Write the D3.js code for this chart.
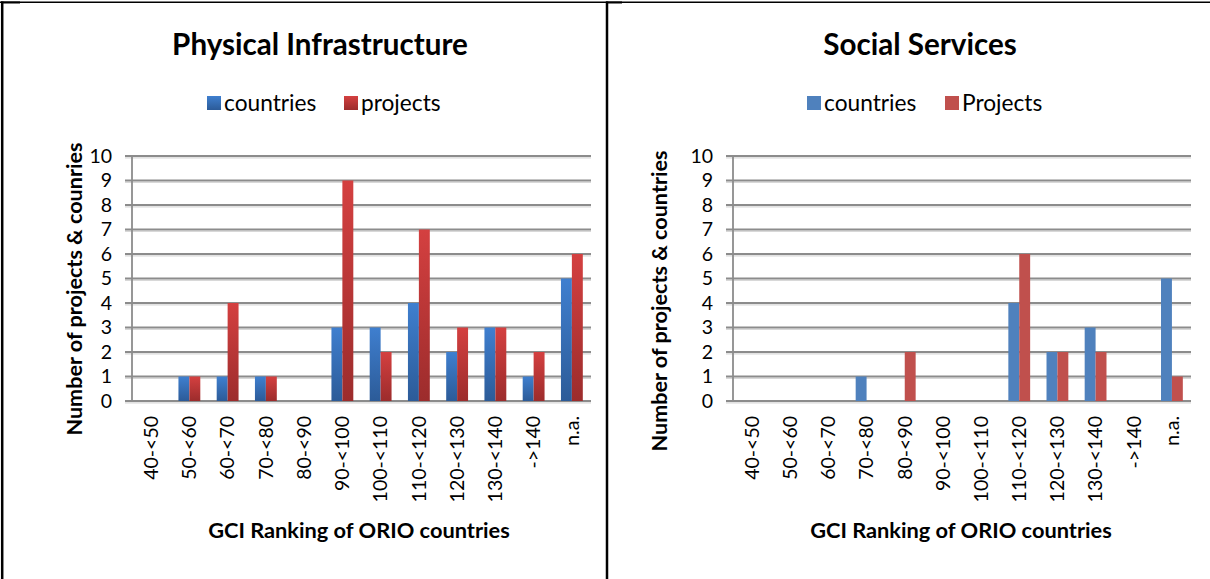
<!DOCTYPE html>
<html>
<head>
<meta charset="utf-8">
<script src="https://cdn.jsdelivr.net/npm/d3@7"></script>
<style>
  body { margin: 0; background: #fff; }
  svg { display: block; font-family: Lato, "Open Sans", sans-serif; }
</style>
</head>
<body>
<svg width="1210" height="579"></svg>
<script>
var svg = d3.select("svg");

var categories = ["40-<50", "50-<60", "60-<70", "70-<80", "80-<90", "90-<100",
                  "100-<110", "110-<120", "120-<130", "130-<140", "->140", "n.a."];
var infraCountries = [0, 1, 1, 1, 0, 3, 3, 4, 2, 3, 1, 5];
var infraProjects  = [0, 1, 4, 1, 0, 9, 2, 7, 3, 3, 2, 6];
var socialCountries = [0, 0, 0, 1, 0, 0, 0, 4, 2, 3, 0, 5];
var socialProjects  = [0, 0, 0, 0, 2, 0, 0, 6, 2, 2, 0, 1];
var yTicks = [0, 1, 2, 3, 4, 5, 6, 7, 8, 9, 10];

var defs = svg.append("defs");
function grad(id, top, bottom) {
    var g = defs.append("linearGradient").attr("id", id)
        .attr("x1", 0).attr("y1", 0).attr("x2", 0).attr("y2", 1);
    g.append("stop").attr("offset", "0%").attr("stop-color", top);
    g.append("stop").attr("offset", "100%").attr("stop-color", bottom);
}
grad("gBlue", "#3f7fcf", "#2c5b98");
grad("gRed", "#d44040", "#9c2c2c");

// table cell borders
svg.append("line").attr("x1", 0).attr("x2", 1210).attr("y1", 2.2).attr("y2", 2.2)
    .attr("stroke", "#000").attr("stroke-width", 1.4);
svg.append("line").attr("x1", 1).attr("x2", 20).attr("y1", 2.5).attr("y2", 2.5)
    .attr("stroke", "#000").attr("stroke-width", 2);
svg.append("line").attr("x1", 606).attr("x2", 622).attr("y1", 2.5).attr("y2", 2.5)
    .attr("stroke", "#000").attr("stroke-width", 2);
svg.append("line").attr("x1", 2.2).attr("x2", 2.2).attr("y1", 1.5).attr("y2", 579)
    .attr("stroke", "#000").attr("stroke-width", 2.5);
svg.append("line").attr("x1", 607).attr("x2", 607).attr("y1", 1.5).attr("y2", 579)
    .attr("stroke", "#000").attr("stroke-width", 2.5);

function drawChart(c) {
    var g = svg.append("g");
    var x = d3.scaleBand().domain(categories).range([c.left, c.right])
        .paddingInner(0.4286).paddingOuter(0.2143);
    var xs = d3.scaleBand().domain(["countries", "projects"]).range([0, x.bandwidth()]);
    var y = d3.scaleLinear().domain([0, 10]).range([401, 156]);

    // gridlines (with a soft shadow)
    g.selectAll(".shadow").data(yTicks).enter().append("line")
        .attr("x1", c.left - 7).attr("x2", c.right)
        .attr("y1", function (d) { return y(d) + 1.8; })
        .attr("y2", function (d) { return y(d) + 1.8; })
        .attr("stroke", "#d8d8d8").attr("stroke-width", 1.3);
    g.selectAll(".grid").data(yTicks).enter().append("line")
        .attr("x1", c.left - 7).attr("x2", c.right)
        .attr("y1", function (d) { return y(d); })
        .attr("y2", function (d) { return y(d); })
        .attr("stroke", "#8c8c8c").attr("stroke-width", 1.8);
    g.append("line").attr("x1", c.left).attr("x2", c.left)
        .attr("y1", y(10)).attr("y2", y(0))
        .attr("stroke", "#8c8c8c").attr("stroke-width", 1.8);

    g.selectAll(".ylab").data(yTicks).enter().append("text")
        .attr("x", c.left - 20).attr("y", function (d) { return y(d); })
        .attr("dy", "0.35em").attr("text-anchor", "end")
        .attr("font-size", 19.5).attr("fill", "#000")
        .text(function (d) { return d; });

    var series = [
        { key: "countries", values: c.countries, fill: c.fills[0] },
        { key: "projects", values: c.projects, fill: c.fills[1] }
    ];
    series.forEach(function (s) {
        g.selectAll(".bar-" + s.key).data(s.values).enter().append("rect")
            .attr("x", function (d, i) { return x(categories[i]) + xs(s.key); })
            .attr("width", xs.bandwidth())
            .attr("y", function (d) { return y(d); })
            .attr("height", function (d) { return y(0) - y(d); })
            .attr("fill", s.fill);
    });

    g.selectAll(".xlab").data(categories).enter().append("text")
        .attr("transform", function (d) {
            return "translate(" + (x(d) + x.bandwidth() / 2) + ",416) rotate(-90)";
        })
        .attr("dy", "0.35em").attr("text-anchor", "end")
        .attr("font-size", 19.5).attr("fill", "#000")
        .text(function (d) { return d; });

    g.append("text").attr("x", c.titleX).attr("y", 55)
        .attr("text-anchor", "middle").attr("font-weight", "bold")
        .attr("font-size", 29.6).text(c.title);

    g.append("text").attr("x", c.xTitleX).attr("y", 538)
        .attr("text-anchor", "middle").attr("font-weight", "bold")
        .attr("font-size", 21.8).text("GCI Ranking of ORIO countries");

    g.append("text")
        .attr("transform", "translate(" + c.yTitleX + "," + c.yTitleY + ") rotate(-90)")
        .attr("text-anchor", "middle").attr("font-weight", "bold")
        .attr("font-size", 21.6).text(c.yTitle);

    // legend
    c.legend.forEach(function (l, i) {
        g.append("rect").attr("x", l.x).attr("y", 96).attr("width", 14).attr("height", 14)
            .attr("fill", c.fills[i]);
        g.append("text").attr("x", l.x + 17).attr("y", 103).attr("dy", "0.35em")
            .attr("font-size", 22.7).text(l.label);
    });
}

drawChart({
    left: 132, right: 591,
    countries: infraCountries, projects: infraProjects,
    fills: ["url(#gBlue)", "url(#gRed)"],
    title: "Physical Infrastructure", titleX: 320,
    xTitleX: 359,
    yTitle: "Number of projects & counries", yTitleX: 82, yTitleY: 289,
    legend: [{ x: 207, label: "countries" }, { x: 344, label: "projects" }]
});

drawChart({
    left: 733, right: 1191,
    countries: socialCountries, projects: socialProjects,
    fills: ["#4f81bd", "#c0504d"],
    title: "Social Services", titleX: 920,
    xTitleX: 961,
    yTitle: "Number of projects & countries", yTitleX: 667, yTitleY: 301,
    legend: [{ x: 807, label: "countries" }, { x: 945, label: "Projects" }]
});
</script>
</body>
</html>
